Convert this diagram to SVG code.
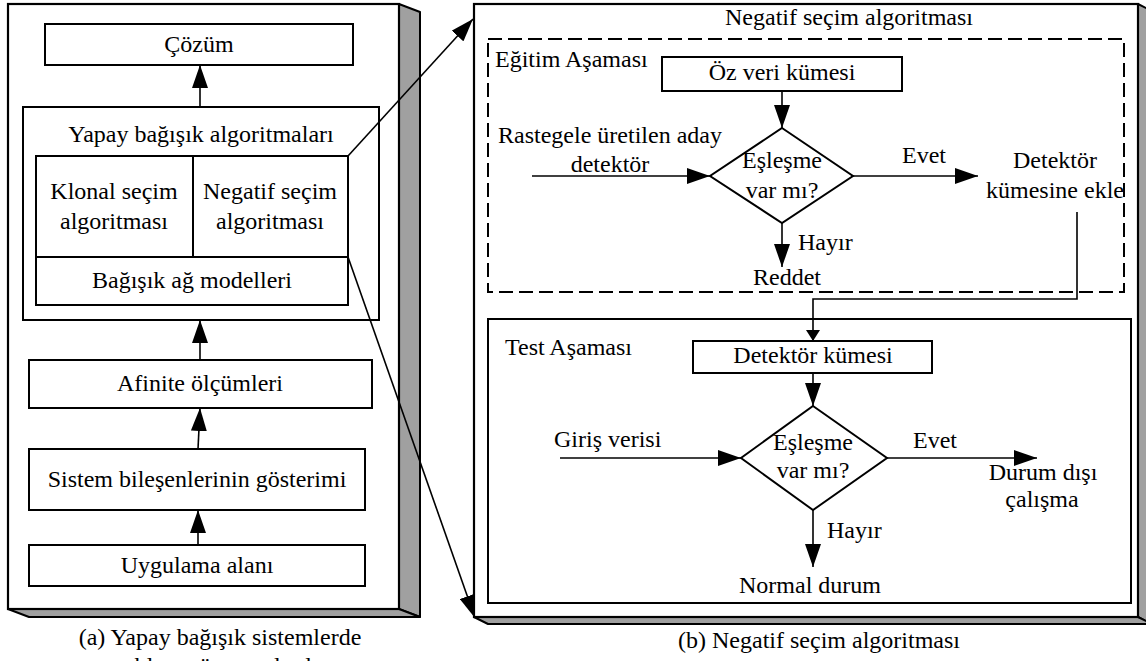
<svg xmlns="http://www.w3.org/2000/svg" width="1146" height="661" viewBox="0 0 1146 661">
<style>
text{font-family:"Liberation Serif","Times New Roman",serif;font-size:24px;fill:#000}
.c{text-anchor:middle}
.box{fill:#fff;stroke:#000;stroke-width:2}
.face{fill:#fff;stroke:#000;stroke-width:2.2}
.shade{fill:#a0a0a0;stroke:#000;stroke-width:2;stroke-linejoin:round}
.ln{fill:none;stroke:#000;stroke-width:1.6}
.dash{fill:none;stroke:#000;stroke-width:2;stroke-dasharray:14 6}
</style>
<defs>
<marker id="ah" markerUnits="userSpaceOnUse" markerWidth="23" markerHeight="16" refX="23" refY="8" orient="auto" viewBox="0 0 23 16"><path d="M0,0 L23,8 L0,16 z" fill="#000"/></marker>
<marker id="as" markerUnits="userSpaceOnUse" markerWidth="11" markerHeight="14" refX="11" refY="7" orient="auto" viewBox="0 0 11 14"><path d="M0,0 L11,7 L0,14 z" fill="#000"/></marker>
</defs>

<g id="panel-a">
<polygon class="shade" points="399,4 420,12 420,617 399,609"/>
<polygon class="shade" points="8,609 399,609 420,617 29,617"/>
<rect class="face" x="8" y="4" width="391" height="605"/>
</g>
<g id="panel-b">
<polygon class="shade" points="1138,4 1152,11 1152,624 1138,617"/>
<polygon class="shade" points="474,617 1138,617 1152,624 488,624"/>
<rect class="face" x="474" y="4" width="664" height="613"/>
<text class="c" x="849" y="25">Negatif seçim algoritması</text>
</g>

<g id="cozum"><rect class="box" x="45" y="24" width="308" height="41"/><text class="c" x="199" y="52">Çözüm</text></g>
<g id="yapay"><rect class="box" x="23" y="107" width="356" height="213"/><text class="c" x="201" y="142">Yapay bağışık algoritmaları</text></g>
<g id="klonal"><rect class="box" x="36" y="156" width="157" height="101"/><text class="c" x="114" y="199">Klonal seçim</text><text class="c" x="114" y="229">algoritması</text></g>
<g id="negatif"><rect class="box" x="193" y="156" width="155" height="101"/><text class="c" x="270" y="199">Negatif seçim</text><text class="c" x="270" y="229">algoritması</text></g>
<g id="bagisik"><rect class="box" x="36" y="257" width="312" height="48"/><text class="c" x="192" y="288">Bağışık ağ modelleri</text></g>
<g id="afinite"><rect class="box" x="29" y="360" width="343" height="48"/><text class="c" x="200" y="391">Afinite ölçümleri</text></g>
<g id="sistem"><rect class="box" x="29" y="449" width="336" height="61"/><text class="c" x="197" y="487">Sistem bileşenlerinin gösterimi</text></g>
<g id="uygulama"><rect class="box" x="29" y="545" width="336" height="41"/><text class="c" x="197" y="573">Uygulama alanı</text></g>
<g id="caption-a"><text class="c" x="220" y="645">(a) Yapay bağışık sistemlerde</text><text class="c" x="220" y="674">problem çözme adımları</text></g>

<g id="egitim"><rect class="dash" x="488" y="39" width="636" height="253"/><text x="495" y="67">Eğitim Aşaması</text></g>
<g id="oz-veri"><rect class="box" x="662" y="57" width="240" height="34"/><text class="c" x="782" y="80">Öz veri kümesi</text></g>
<g id="aday"><text class="c" x="610" y="143">Rastegele üretilen aday</text><text class="c" x="610" y="172">detektör</text></g>
<g id="esles1"><polygon class="box" points="782,128 853,176 782,223 710,176"/><text class="c" x="782" y="168">Eşleşme</text><text class="c" x="782" y="198">var mı?</text></g>
<g id="ekle"><text class="c" x="1055" y="168">Detektör</text><text class="c" x="1055" y="198">kümesine ekle</text></g>
<g id="reddet"><text class="c" x="787" y="285">Reddet</text></g>

<g id="test"><rect class="box" x="488" y="319" width="643" height="284"/><text x="505" y="355">Test Aşaması</text></g>
<g id="detektor-kumesi"><rect class="box" x="693" y="341" width="239" height="32"/><text class="c" x="813" y="363">Detektör kümesi</text></g>
<g id="giris"><text x="554" y="447">Giriş verisi</text></g>
<g id="esles2"><polygon class="box" points="813,406 887,458 813,510 741,458"/><text class="c" x="813" y="450">Eşleşme</text><text class="c" x="813" y="478">var mı?</text></g>
<g id="durum-disi"><text class="c" x="1043" y="480">Durum dışı</text><text class="c" x="1042" y="507">çalışma</text></g>
<g id="normal"><text class="c" x="810" y="593">Normal durum</text></g>
<g id="caption-b"><text class="c" x="819" y="648">(b) Negatif seçim algoritması</text></g>

<g id="connectors">
<line class="ln" x1="200" y1="107" x2="200" y2="65" marker-end="url(#ah)"/>
<line class="ln" x1="200" y1="360" x2="200" y2="320" marker-end="url(#ah)"/>
<line class="ln" x1="198" y1="449" x2="200" y2="408" marker-end="url(#ah)"/>
<line class="ln" x1="198" y1="545" x2="198" y2="510" marker-end="url(#ah)"/>
<line class="ln" x1="348" y1="156" x2="473" y2="19" marker-end="url(#ah)"/>
<line class="ln" x1="348" y1="257" x2="475" y2="618" marker-end="url(#ah)"/>
<line class="ln" x1="782" y1="91" x2="782" y2="128" marker-end="url(#ah)"/>
<line class="ln" x1="532" y1="176" x2="710" y2="176" marker-end="url(#ah)"/>
<line class="ln" x1="853" y1="176" x2="978" y2="176" marker-end="url(#ah)"/>
<text class="c" x="924" y="163">Evet</text>
<line class="ln" x1="782" y1="223" x2="782" y2="267" marker-end="url(#ah)"/>
<text x="798" y="250">Hayır</text>
<polyline class="ln" points="1077,212 1077,299 813,299 813,341" marker-end="url(#as)"/>
<line class="ln" x1="813" y1="373" x2="813" y2="406" marker-end="url(#ah)"/>
<line class="ln" x1="560" y1="458" x2="741" y2="458" marker-end="url(#ah)"/>
<line class="ln" x1="887" y1="458" x2="1037" y2="458" marker-end="url(#ah)"/>
<text class="c" x="935" y="448">Evet</text>
<line class="ln" x1="813" y1="510" x2="813" y2="567" marker-end="url(#ah)"/>
<text x="827" y="538">Hayır</text>
</g>
</svg>
